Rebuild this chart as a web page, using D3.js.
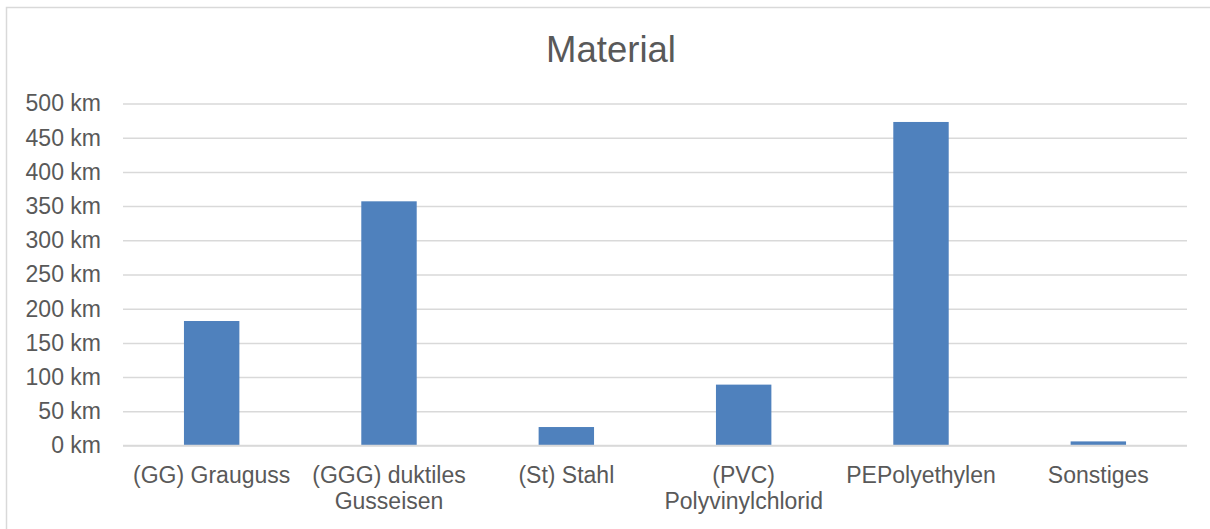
<!DOCTYPE html>
<html>
<head>
<meta charset="utf-8">
<script src="https://cdn.jsdelivr.net/npm/d3@7"></script>
<style>
  html, body { margin: 0; padding: 0; background: #fff; }
  svg { display: block; font-family: "Liberation Sans", Arial, sans-serif; }
</style>
</head>
<body>
<svg id="chart" width="1210" height="529"></svg>
<script>
// Pipe network length by material
const categories = ["(GG) Grauguss", "(GGG) duktiles Gusseisen", "(St) Stahl", "(PVC) Polyvinylchlorid", "PEPolyethylen", "Sonstiges"];
const lengthsKm = [182, 357, 27, 89, 473, 6];
const yTicks = [0, 50, 100, 150, 200, 250, 300, 350, 400, 450, 500];
const chartTitle = "Material";

const svg = d3.select("#chart");
const W = 1210, H = 529;
const margin = { left: 123, right: 23, top: 103.5, bottom: 83.5 };
const textColor = "#595959";
const gridColor = "#d9d9d9";
const labelSize = 23;

// Chart frame (left and top edges)
svg.append("path")
  .attr("d", `M6.5,${H} V7.5 H${W}`)
  .attr("fill", "none")
  .attr("stroke", gridColor)
  .attr("stroke-width", 1.5);

// Title
svg.append("text")
  .attr("x", 611)
  .attr("y", 62)
  .attr("text-anchor", "middle")
  .attr("font-size", 36.5)
  .attr("fill", textColor)
  .text(chartTitle);

const x = d3.scaleBand()
  .domain(categories)
  .range([margin.left, W - margin.right])
  .paddingInner(0.6875)
  .paddingOuter(0.34375);

const y = d3.scaleLinear()
  .domain([0, 500])
  .range([H - margin.bottom, margin.top]);

// Gridlines + y tick labels
const yAxis = d3.axisLeft(y)
  .tickValues(yTicks)
  .tickSize(-(W - margin.left - margin.right))
  .tickPadding(22)
  .tickFormat(d => `${d} km`);

const gy = svg.append("g")
  .attr("transform", `translate(${margin.left},0)`)
  .call(yAxis);
gy.select(".domain").remove();
gy.selectAll(".tick line")
  .attr("stroke", gridColor)
  .attr("stroke-width", 1.5);
gy.selectAll(".tick text")
  .attr("fill", textColor)
  .attr("font-size", labelSize)
  .attr("font-family", "Liberation Sans, Arial, sans-serif");

// Bars
svg.append("g")
  .selectAll("rect")
  .data(categories)
  .join("rect")
  .attr("x", d => x(d))
  .attr("width", x.bandwidth())
  .attr("y", (d, i) => y(lengthsKm[i]))
  .attr("height", (d, i) => y(0) - y(lengthsKm[i]))
  .attr("fill", "#4f81bd");

// Baseline
svg.append("line")
  .attr("x1", margin.left).attr("x2", W - margin.right)
  .attr("y1", y(0)).attr("y2", y(0))
  .attr("stroke", gridColor)
  .attr("stroke-width", 1.5);

// Category axis labels, wrapped to the band step
const xAxis = d3.axisBottom(x).tickSize(0).tickPadding(0);
const gx = svg.append("g")
  .attr("transform", `translate(0,${y(0)})`)
  .call(xAxis);
gx.select(".domain").remove();
const step = x.step();
gx.selectAll(".tick text")
  .attr("fill", textColor)
  .attr("font-size", labelSize)
  .attr("font-family", "Liberation Sans, Arial, sans-serif")
  .attr("dy", null)
  .attr("y", 37.5)
  .each(function(d) {
    const t = d3.select(this);
    const words = d.split(" ");
    t.text(null);
    let line = [];
    let tspan = t.append("tspan").attr("x", 0).attr("y", 37.5);
    let lineNo = 0;
    for (const w of words) {
      line.push(w);
      tspan.text(line.join(" "));
      if (tspan.node().getComputedTextLength() > step - 2 && line.length > 1) {
        line.pop();
        tspan.text(line.join(" "));
        line = [w];
        lineNo++;
        tspan = t.append("tspan").attr("x", 0).attr("y", 37.5 + lineNo * 26).text(w);
      }
    }
  });
</script>
</body>
</html>
